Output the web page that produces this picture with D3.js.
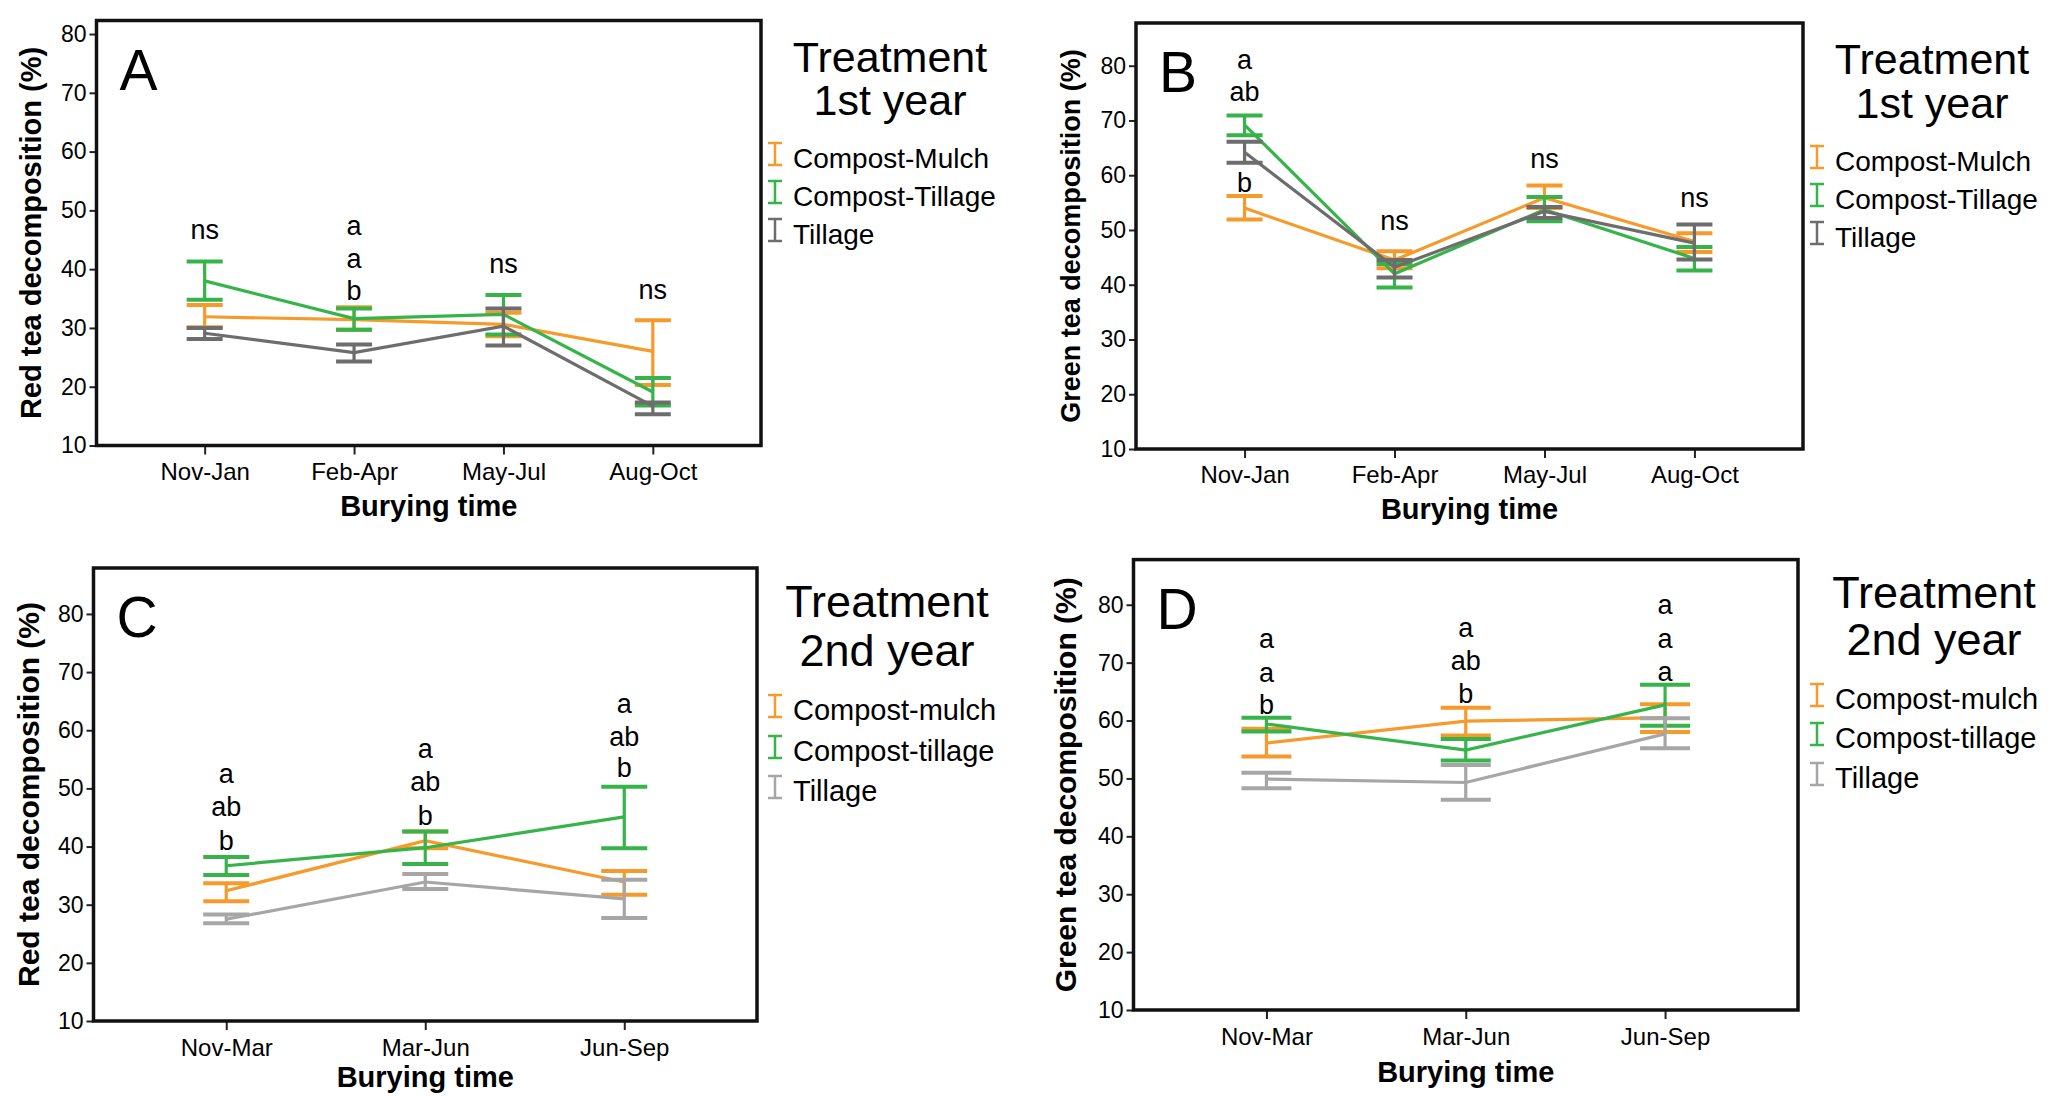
<!DOCTYPE html>
<html>
<head>
<meta charset="utf-8">
<script src="https://cdn.jsdelivr.net/npm/d3@7"></script>
<style>
  body { margin: 0; background: #fff; }
  text { font-family: "Liberation Sans", Arial, sans-serif; fill: #000; }
</style>
</head>
<body>
<script>
// categories
let periods1 = ["Nov-Jan", "Feb-Apr", "May-Jul", "Aug-Oct"];
let periods2 = ["Nov-Mar", "Mar-Jun", "Jun-Sep"];
let treat1 = ["Compost-Mulch", "Compost-Tillage", "Tillage"];
let treat2 = ["Compost-mulch", "Compost-tillage", "Tillage"];
let yTicks = [10, 20, 30, 40, 50, 60, 70, 80];

// [mean, lower, upper] per burying time
// A: red tea, 1st year
let aMulch = [[31.9, 30.1, 33.9], [31.4, 29.7, 33.5], [30.6, 28.6, 32.6], [26.0, 20.3, 31.3]];
let aCTill = [[38.0, 34.8, 41.3], [31.6, 29.7, 33.3], [32.3, 28.9, 35.6], [19.1, 16.8, 21.5]];
let aTill  = [[29.1, 28.1, 30.0], [25.8, 24.3, 27.2], [30.3, 27.0, 33.3], [16.7, 15.3, 17.3]];
// B: green tea, 1st year
let bMulch = [[54.0, 51.9, 56.2], [44.5, 43.0, 46.1], [55.9, 54.0, 58.1], [47.9, 46.0, 49.4]];
let bCTill = [[69.2, 67.3, 70.9], [42.0, 39.5, 43.8], [53.7, 51.6, 56.0], [44.8, 42.6, 46.9]];
let bTill  = [[64.2, 62.3, 66.1], [43.2, 41.3, 44.5], [53.4, 52.2, 54.2], [47.6, 44.6, 51.0]];
// C: red tea, 2nd year
let cMulch = [[32.4, 30.6, 33.7], [41.0, 39.7, 42.6], [33.9, 31.7, 35.8]];
let cCTill = [[36.7, 35.1, 38.2], [39.8, 37.0, 42.6], [45.1, 39.7, 50.3]];
let cTill  = [[27.5, 26.8, 28.3], [33.9, 32.7, 35.3], [31.0, 27.7, 34.3]];
// D: green tea, 2nd year
let dMulch = [[56.1, 53.8, 58.6], [59.9, 57.4, 62.2], [60.5, 58.0, 62.8]];
let dCTill = [[59.4, 58.1, 60.5], [54.9, 53.1, 56.8], [62.7, 59.1, 66.2]];
let dTill  = [[49.9, 48.3, 51.0], [49.3, 46.3, 52.3], [57.7, 55.2, 60.4]];

// significance letters: [period index, text, value where it sits]
let aNotes = [[0, "ns", 46.7], [1, "a", 47.4], [1, "a", 41.8], [1, "b", 36.3], [2, "ns", 41.0], [3, "ns", 36.6]];
let bNotes = [[0, "a", 81.2], [0, "ab", 75.2], [0, "b", 58.6], [1, "ns", 51.7], [2, "ns", 63.0], [3, "ns", 55.9]];
let cNotes = [[0, "a", 52.5], [0, "ab", 46.9], [0, "b", 41.1], [1, "a", 56.9], [1, "ab", 51.1], [1, "b", 45.4],
              [2, "a", 64.6], [2, "ab", 59.0], [2, "b", 53.5]];
let dNotes = [[0, "a", 74.2], [0, "a", 68.3], [0, "b", 62.7], [1, "a", 76.0], [1, "ab", 70.3], [1, "b", 64.6],
              [2, "a", 80.1], [2, "a", 74.2], [2, "a", 68.5]];

let orange = "#f69a2c", green = "#36b44a";

let svg = d3.select("body").append("svg")
    .attr("width", 2065)
    .attr("height", 1096);

let panels = [
  { letter: "A", x0: 96.5, x1: 761, y0: 20.5, y1: 445.5, yMax: 82.3, pad: 0.724, cap: 36,
    cats: periods1, names: treat1, series: [aMulch, aCTill, aTill], notes: aNotes, gray: "#6d6d6d",
    yLab: "Red tea decomposition (%)", yLabX: 31, yLabSize: 29, xLabY: 506, tickOff: 17,
    legX: 768, titleX: 890, titleY: [71.7, 115], titleSize: 43, itemY: [168, 206, 244], itemSize: 28, year: "1st year" },
  { letter: "B", x0: 1136, x1: 1803, y0: 23, y1: 449, yMax: 87.8, pad: 0.724, cap: 36,
    cats: periods1, names: treat1, series: [bMulch, bCTill, bTill], notes: bNotes, gray: "#6d6d6d",
    yLab: "Green tea decomposition (%)", yLabX: 1071, yLabSize: 27, xLabY: 509, tickOff: 17,
    legX: 1810, titleX: 1932, titleY: [74, 118], titleSize: 43, itemY: [171, 209, 247], itemSize: 28, year: "1st year" },
  { letter: "C", x0: 93.5, x1: 757, y0: 568, y1: 1021, yMax: 87.9, pad: 0.667, cap: 46,
    cats: periods2, names: treat2, series: [cMulch, cCTill, cTill], notes: cNotes, gray: "#a6a6a6",
    yLab: "Red tea decomposition (%)", yLabX: 28, yLabSize: 30, xLabY: 1077, tickOff: 18,
    legX: 768, titleX: 887, titleY: [617, 666], titleSize: 45, itemY: [720, 761, 801], itemSize: 29, year: "2nd year" },
  { letter: "D", x0: 1133.5, x1: 1798, y0: 559.6, y1: 1010, yMax: 87.8, pad: 0.667, cap: 50,
    cats: periods2, names: treat2, series: [dMulch, dCTill, dTill], notes: dNotes, gray: "#a6a6a6",
    yLab: "Green tea decomposition (%)", yLabX: 1065, yLabSize: 30, xLabY: 1072, tickOff: 18,
    legX: 1810, titleX: 1934, titleY: [607.6, 654.5], titleSize: 45, itemY: [709, 748, 788], itemSize: 29, year: "2nd year" }
];

panels.forEach(function (p) {
  let g = svg.append("g");
  let x = d3.scalePoint().domain(p.cats).range([p.x0, p.x1]).padding(p.pad);
  let y = d3.scaleLinear().domain([10, p.yMax]).range([p.y1, p.y0]);
  let colors = [orange, green, p.gray];

  // axes
  let xAxis = g.append("g").attr("transform", "translate(0," + p.y1 + ")")
      .call(d3.axisBottom(x).tickSize(9).tickPadding(p.tickOff - 9).tickSizeOuter(0));
  xAxis.selectAll("text").attr("font-size", 24).attr("font-family", "Liberation Sans, Arial");
  let yAxis = g.append("g").attr("transform", "translate(" + p.x0 + ",0)")
      .call(d3.axisLeft(y).tickValues(yTicks).tickSize(7).tickPadding(3).tickSizeOuter(0));
  yAxis.selectAll("text").attr("font-size", 23).attr("font-family", "Liberation Sans, Arial");
  g.selectAll(".domain").remove();
  g.selectAll(".tick line").attr("stroke", "#222").attr("stroke-width", 2);

  // frame
  g.append("rect")
      .attr("x", p.x0).attr("y", p.y0)
      .attr("width", p.x1 - p.x0).attr("height", p.y1 - p.y0)
      .attr("fill", "none").attr("stroke", "#111").attr("stroke-width", 3.5);

  // lines and error bars
  p.series.forEach(function (s, k) {
    let line = d3.line().x(function (d, i) { return x(p.cats[i]); }).y(function (d) { return y(d[0]); });
    g.append("path").datum(s).attr("d", line)
        .attr("fill", "none").attr("stroke", colors[k]).attr("stroke-width", 3.2);
    let eb = g.append("g").attr("stroke", colors[k]).attr("stroke-width", 3.2);
    s.forEach(function (d, i) {
      let cx = x(p.cats[i]);
      eb.append("line").attr("x1", cx).attr("x2", cx).attr("y1", y(d[1])).attr("y2", y(d[2]));
      [d[1], d[2]].forEach(function (v) {
        eb.append("line").attr("x1", cx - p.cap / 2).attr("x2", cx + p.cap / 2)
            .attr("y1", y(v)).attr("y2", y(v)).attr("stroke-width", 4);
      });
    });
  });

  // significance letters
  g.selectAll(".note").data(p.notes).enter().append("text")
      .attr("x", function (d) { return x(p.cats[d[0]]); })
      .attr("y", function (d) { return y(d[2]); })
      .attr("dy", "0.35em")
      .attr("text-anchor", "middle")
      .attr("font-size", 27)
      .text(function (d) { return d[1]; });

  // panel letter
  g.append("text").attr("x", p.x0 + 23).attr("y", p.y0 + 69)
      .attr("font-size", 57).text(p.letter);

  // axis titles
  g.append("text")
      .attr("transform", "translate(" + p.yLabX + "," + (p.y0 + p.y1) / 2 + ") rotate(-90)")
      .attr("text-anchor", "middle").attr("dy", "0.35em")
      .attr("font-size", p.yLabSize).attr("font-weight", "bold")
      .text(p.yLab);
  g.append("text")
      .attr("x", (p.x0 + p.x1) / 2).attr("y", p.xLabY).attr("dy", "0.35em")
      .attr("text-anchor", "middle")
      .attr("font-size", 29).attr("font-weight", "bold")
      .text("Burying time");

  // legend
  let leg = g.append("g");
  leg.append("text").attr("x", p.titleX).attr("y", p.titleY[0]).attr("text-anchor", "middle")
      .attr("font-size", p.titleSize).text("Treatment");
  leg.append("text").attr("x", p.titleX).attr("y", p.titleY[1]).attr("text-anchor", "middle")
      .attr("font-size", p.titleSize).text(p.year);
  p.names.forEach(function (n, k) {
    let by = p.itemY[k];
    let sx = p.legX + 7;
    let sym = leg.append("g").attr("stroke", colors[k]).attr("stroke-width", 2.5);
    sym.append("line").attr("x1", sx).attr("x2", sx).attr("y1", by - 25).attr("y2", by - 3);
    sym.append("line").attr("x1", sx - 7).attr("x2", sx + 7).attr("y1", by - 25).attr("y2", by - 25);
    sym.append("line").attr("x1", sx - 7).attr("x2", sx + 7).attr("y1", by - 3).attr("y2", by - 3);
    leg.append("text").attr("x", p.legX + 25).attr("y", by)
        .attr("font-size", p.itemSize).text(n);
  });
});
</script>
</body>
</html>
